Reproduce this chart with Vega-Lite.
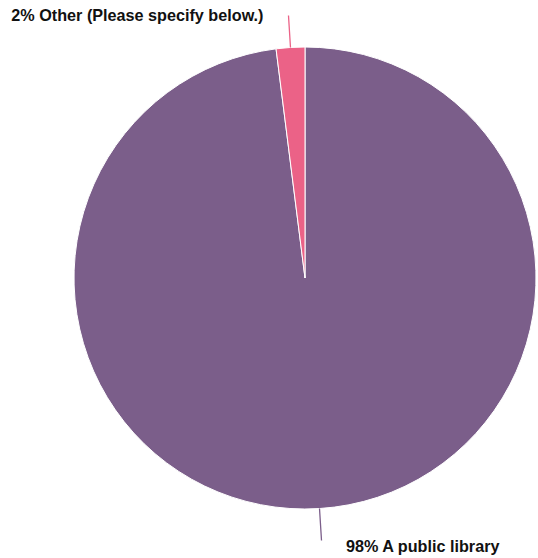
{
  "$schema": "https://vega.github.io/schema/vega-lite/v6.json",
  "autosize": "none",
  "width": 466,
  "height": 556,
  "padding": {"left": 72, "top": 0, "right": 0, "bottom": 2},
  "background": "white",
  "config": {"view": {"stroke": null}},
  "data": {
    "values": [
      {"label": "A public library", "pct": 98, "rank": 1},
      {"label": "Other (Please specify below.)", "pct": 2, "rank": 2}
    ]
  },
  "transform": [
    {"stack": "pct", "groupby": [], "sort": [{"field": "rank"}], "as": ["start", "end"]},
    {"calculate": "(datum.start + datum.end) / 2", "as": "mid"},
    {"calculate": "datum.pct + '% ' + datum.label", "as": "text"}
  ],
  "layer": [
    {
      "mark": {"type": "arc", "stroke": "white", "strokeWidth": 1},
      "encoding": {
        "theta": {"field": "start", "type": "quantitative", "scale": {"domain": [0, 100]}},
        "theta2": {"field": "end"},
        "radius": {"value": 231},
        "color": {
          "field": "label", "type": "nominal", "legend": null,
          "scale": {"domain": ["A public library", "Other (Please specify below.)"], "range": ["#7B5E8A", "#EB6287"]}
        }
      }
    },
    {
      "mark": {"type": "arc", "innerRadius": 231, "outerRadius": 263, "filled": false, "strokeWidth": 1.3},
      "encoding": {
        "theta": {"field": "mid", "type": "quantitative", "scale": {"domain": [0, 100]}},
        "theta2": {"field": "mid"},
        "stroke": {
          "field": "label", "type": "nominal", "legend": null,
          "scale": {"domain": ["A public library", "Other (Please specify below.)"], "range": ["#7B5E8A", "#EB6287"]}
        }
      }
    },
    {
      "transform": [{"filter": "datum.rank == 2"}],
      "mark": {"type": "text", "align": "right", "baseline": "middle", "dx": -25, "font": "Liberation Sans", "fontWeight": "bold", "fontSize": 16.2, "color": "#111111"},
      "encoding": {
        "theta": {"field": "mid", "type": "quantitative", "scale": {"domain": [0, 100]}},
        "radius": {"value": 262.5},
        "text": {"field": "text"}
      }
    },
    {
      "transform": [{"filter": "datum.rank == 1"}],
      "mark": {"type": "text", "align": "left", "baseline": "middle", "dx": 24, "font": "Liberation Sans", "fontWeight": "bold", "fontSize": 16.2, "color": "#111111"},
      "encoding": {
        "theta": {"field": "mid", "type": "quantitative", "scale": {"domain": [0, 100]}},
        "radius": {"value": 269.5},
        "text": {"field": "text"}
      }
    }
  ]
}
